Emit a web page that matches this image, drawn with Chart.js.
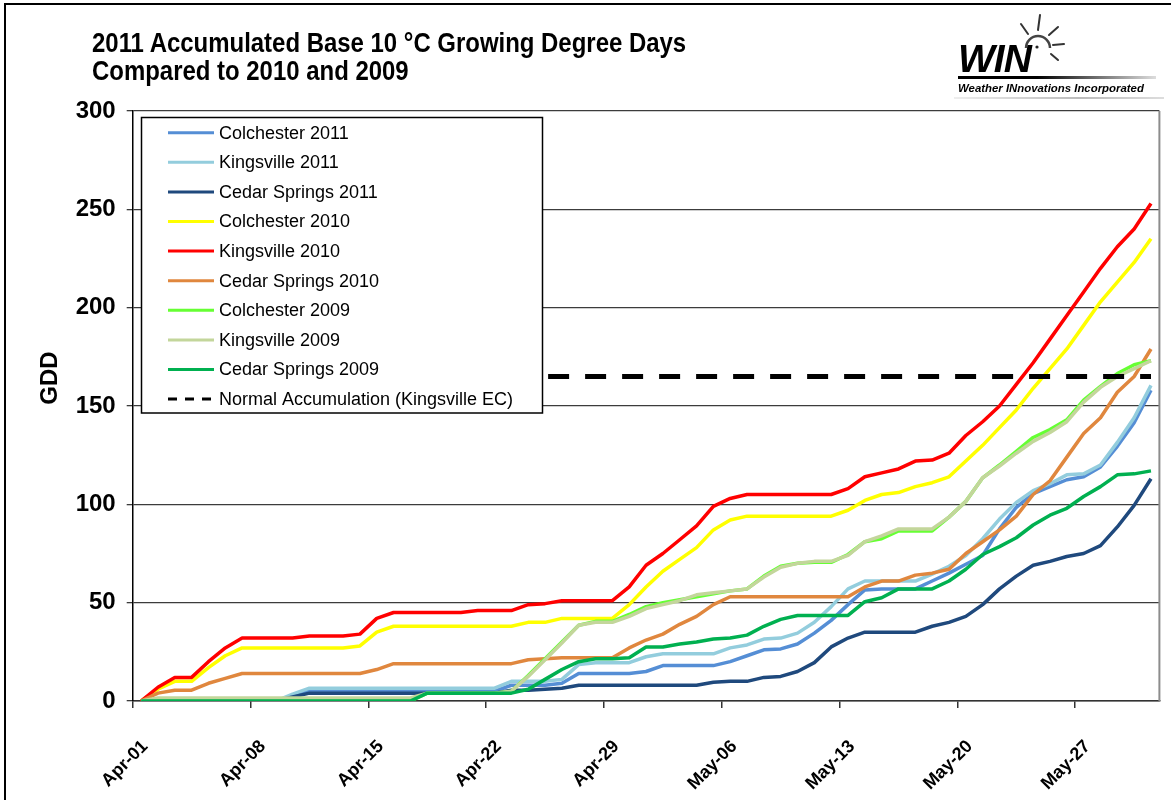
<!DOCTYPE html>
<html>
<head>
<meta charset="utf-8">
<script src="https://cdn.jsdelivr.net/npm/chart.js@4.4.1/dist/chart.umd.min.js"></script>
<style>
  html, body { margin: 0; padding: 0; background: #fff; overflow: hidden; }
  #wrap { position: relative; width: 1171px; height: 800px; }
  #frame { position: absolute; left: 4px; top: 3px; width: 1300px; height: 900px; border: 2.5px solid #000; }
  #title { position: absolute; left: 92px; top: 29px; font: bold 28px "Liberation Sans", Arial, sans-serif; line-height: 27.5px; color: #000; transform: scaleX(0.855); transform-origin: left top; white-space: nowrap; }
  #logo { position: absolute; left: 952px; top: 8px; width: 212px; height: 94px; }
  #logo .win { position: absolute; left: 6px; top: 29px; font: italic bold 39px "Liberation Sans", Arial, sans-serif; letter-spacing: -1px; color: #000; }
  #logo .bar { position: absolute; left: 6px; top: 68px; width: 198px; height: 3px; background: linear-gradient(to right, #000 0%, #000 40%, #ddd 100%); }
  #logo .sub { position: absolute; left: 6px; top: 74px; font: italic bold 11.4px "Liberation Sans", Arial, sans-serif; color: #000; white-space: nowrap; }
  #logo .rule { position: absolute; left: 2px; top: 89px; width: 210px; height: 2px; background: linear-gradient(to right, #eee, #bbb 60%, #ddd); }
  #logo svg { position: absolute; left: 62px; top: 2px; }
  canvas { position: absolute; left: 0; top: 0; }
</style>
</head>
<body>
<div id="wrap">
  <canvas id="gddChart" width="1171" height="800"></canvas>
  <div id="frame"></div>
  <div id="title">2011 Accumulated Base 10 °C Growing Degree Days<br>Compared to 2010 and 2009</div>
  <div id="logo">
    <svg width="60" height="60" viewBox="0 0 60 60">
      <path d="M12 38 A12 12 0 0 1 36 38" fill="none" stroke="#444" stroke-width="2.5"/>
      <circle cx="23" cy="37" r="1.6" fill="#222"/>
      <g stroke="#333" stroke-width="2" stroke-linecap="round">
        <line x1="24" y1="20" x2="26" y2="5"/>
        <line x1="14" y1="24" x2="7" y2="14"/>
        <line x1="35" y1="25" x2="44" y2="17"/>
        <line x1="39" y1="35" x2="50" y2="34"/>
        <line x1="37" y1="44" x2="44" y2="50"/>
      </g>
    </svg>
    <div class="win">WIN</div>
    <div class="bar"></div>
    <div class="sub">Weather INnovations Incorporated</div>
    <div class="rule"></div>
  </div>
</div>
<script>
const days = [
  'Apr-01','Apr-02','Apr-03','Apr-04','Apr-05','Apr-06','Apr-07','Apr-08','Apr-09','Apr-10',
  'Apr-11','Apr-12','Apr-13','Apr-14','Apr-15','Apr-16','Apr-17','Apr-18','Apr-19','Apr-20',
  'Apr-21','Apr-22','Apr-23','Apr-24','Apr-25','Apr-26','Apr-27','Apr-28','Apr-29','Apr-30',
  'May-01','May-02','May-03','May-04','May-05','May-06','May-07','May-08','May-09','May-10',
  'May-11','May-12','May-13','May-14','May-15','May-16','May-17','May-18','May-19','May-20',
  'May-21','May-22','May-23','May-24','May-25','May-26','May-27','May-28','May-29','May-30','May-31'
];
const tickLabels = ['Apr-01','Apr-08','Apr-15','Apr-22','Apr-29','May-06','May-13','May-20','May-27'];
const yTicks = [0, 50, 100, 150, 200, 250, 300];

// 2011
const colchester2011 = [0,0,0,0,0,0,0,0,0,2.5, 5,5,5,5,5,5,5,5,5,5, 5,5,8,8,8,9,14,14,14,14,
  15,18,18,18,18,20,23,26,26.5,29, 34.5,41,49,56.5,57,57,57,61,65,69.5, 74,87.5,98.5,105.5,109,112.5,114,119,129.5,141.5,158];
const kingsville2011 = [0,0,0,0,0,0,0,0,0,3.5, 6.5,6.5,6.5,6.5,6.5,6.5,6.5,6.5,6.5,6.5, 6.5,6.5,10,10,10,11,18.5,19.5,19.5,19.5,
  22.5,24,24,24,24,27,28.5,31.5,32,34.5, 40,48,57,61,61,61,61,64.5,68.5,74, 82.5,92.5,101,107,110.5,115,115.5,120,131.5,144,160.5];
const cedarSprings2011 = [0,0,0,0,0,0,0,0,0,2, 4,4,4,4,4,4,4,4,4,4, 4,4,5.5,5.5,6,6.5,8,8,8,8,
  8,8,8,8,9.5,10,10,12,12.5,15, 19.5,27.5,32,35,35,35,35,38,40,43, 49,57,63.5,69,71,73.5,75,79,88.5,99.5,113];
// 2010
const colchester2010 = [0,6,10,10,17,23,27,27,27,27, 27,27,27,28,35,38,38,38,38,38, 38,38,38,40,40,42,42,42,42,49,
  58,66,72,78,87,92,94,94,94,94, 94,94,97,102,105,106,109,111,114,122, 130,139,148,159,169,179,191,203,213,223,235];
const kingsville2010 = [0,7,12,12,20,27,32,32,32,32, 33,33,33,34,42,45,45,45,45,45, 46,46,46,49,49.5,51,51,51,51,58,
  69,75,82,89,99,103,105,105,105,105, 105,105,108,114,116,118,122,122.5,126,135, 142,150,161,172,184,196,208,220,231,240,253];
const cedarSprings2010 = [0,4,5.5,5.5,9,11.5,14,14,14,14, 14,14,14,14,16,19,19,19,19,19, 19,19,19,21,21.5,22,22,22,22,27,
  31,34,39,43,49,53,53,53,53,53, 53,53,53,58,61,61,64,65,67,75, 81,87,94,105,112,124,136,144,157,165,179];
// 2009
const colchester2009 = [0,0,0,0,0,0,0,0,0,0, 0,0,0,0,0,0,0,4,4,4, 4,4,5,13,21.5,30,38.5,40.5,40.5,44,
  48,50,51.5,53,54.5,56,57,63.5,68.5,70, 70.5,70.5,74.5,81,82.5,86.5,86.5,86.5,93.5,101.5, 113.5,120,127,134,138,143,153,160,166.5,171,173];
const kingsville2009 = [0,1.5,1.5,1.5,1.5,1.5,1.5,1.5,1.5,1.5, 1.5,1.5,1.5,1.5,1.5,1.5,1.5,4,4,4, 4,4,5,12.5,21,29.5,38.5,40,40,43,
  47,49,51,54,55,56,57,63,68,70, 71,71,74,81,84,87.5,87.5,87.5,93.5,101.5, 113.5,119.5,126,132,136.5,142,152,159.5,165,169,173];
const cedarSprings2009 = [0,0,0,0,0,0,0,0,0,0, 0,0,0,0,0,0,0,4,4,4, 4,4,4,6,11,16,20,21.5,21.5,22,
  27.5,27.5,29,30,31.5,32,33.5,38,41.5,43.5, 43.5,43.5,43.5,50.5,52.5,57,57,57,61,67, 74.5,78.5,83,89.5,94.5,98,104,109,115,115.5,117];
// normal accumulation, Kingsville EC
const normalKingsville = [165,165,165,165,165,165,165,165,165,165, 165,165,165,165,165,165,165,165,165,165,
  165,165,165,165,165,165,165,165,165,165, 165,165,165,165,165,165,165,165,165,165,
  165,165,165,165,165,165,165,165,165,165, 165,165,165,165,165,165,165,165,165,165,165];

const FONT = '"Liberation Sans", Arial, sans-serif';

document.addEventListener('DOMContentLoaded', function () {
    const series = [
        { label: 'Colchester 2011', data: colchester2011, color: '#558ED5' },
        { label: 'Kingsville 2011', data: kingsville2011, color: '#93CDDD' },
        { label: 'Cedar Springs 2011', data: cedarSprings2011, color: '#1F497D' },
        { label: 'Colchester 2010', data: colchester2010, color: '#FFFF00' },
        { label: 'Kingsville 2010', data: kingsville2010, color: '#FF0000' },
        { label: 'Cedar Springs 2010', data: cedarSprings2010, color: '#E0873E' },
        { label: 'Colchester 2009', data: colchester2009, color: '#66FF33' },
        { label: 'Kingsville 2009', data: kingsville2009, color: '#C3D69B' },
        { label: 'Cedar Springs 2009', data: cedarSprings2009, color: '#00B050' },
        { label: 'Normal Accumulation (Kingsville EC)', data: normalKingsville, color: '#000000', dash: true }
    ];

    // legend box + right frame + axis title
    const extras = {
        id: 'extras',
        afterDraw(chart) {
            const { ctx, chartArea: a } = chart;
            ctx.save();
            ctx.strokeStyle = '#8c8c8c';
            ctx.lineWidth = 2;
            ctx.beginPath();
            ctx.moveTo(a.right, a.top);
            ctx.lineTo(a.right, a.bottom);
            ctx.stroke();

            ctx.translate(50, 378);
            ctx.rotate(-Math.PI / 2);
            ctx.fillStyle = '#000';
            ctx.font = 'bold 24px ' + FONT;
            ctx.textAlign = 'center';
            ctx.textBaseline = 'middle';
            ctx.fillText('GDD', 0, 0);
            ctx.restore();

            ctx.save();
            ctx.fillStyle = '#fff';
            ctx.fillRect(141.5, 117.5, 401, 295.5);
            ctx.strokeStyle = '#000';
            ctx.lineWidth = 1.5;
            ctx.strokeRect(141.5, 117.5, 401, 295.5);
            ctx.font = '18px ' + FONT;
            ctx.textBaseline = 'middle';
            series.forEach(function (s, i) {
                const y = 132.7 + i * 29.6;
                ctx.strokeStyle = s.color;
                ctx.lineWidth = 3;
                ctx.setLineDash(s.dash ? [9, 8] : []);
                ctx.beginPath();
                ctx.moveTo(168, y);
                ctx.lineTo(214, y);
                ctx.stroke();
                ctx.fillStyle = '#000';
                ctx.fillText(s.label, 219, y + 1);
            });
            ctx.restore();
        }
    };

    const ctx = document.getElementById('gddChart').getContext('2d');
    new Chart(ctx, {
        type: 'line',
        data: {
            labels: days,
            datasets: series.map(function (s, i) {
                return {
                    label: s.label,
                    data: s.data,
                    borderColor: s.color,
                    backgroundColor: s.color,
                    borderWidth: s.dash ? 5 : 3.5,
                    borderDash: s.dash ? [21, 16] : [],
                    borderJoinStyle: 'round',
                    pointRadius: 0,
                    tension: 0,
                    fill: false,
                    order: series.length - i
                };
            })
        },
        options: {
            responsive: false,
            animation: false,
            devicePixelRatio: 1,
            layout: { padding: { top: 111, right: 11.6, left: 0, bottom: 0 } },
            plugins: {
                legend: { display: false },
                tooltip: { enabled: false }
            },
            scales: {
                x: {
                    offset: true,
                    afterFit: function (scale) {
                        scale.height = 99;
                        scale.paddingLeft = 0;
                        scale.paddingRight = 0;
                    },
                    grid: {
                        offset: true,
                        drawOnChartArea: false,
                        drawTicks: true,
                        tickLength: 7,
                        lineWidth: 1.5,
                        tickColor: function (c) {
                            return (c.tick && tickLabels.includes(days[c.index])) ? '#333' : 'rgba(0,0,0,0)';
                        }
                    },
                    border: { display: true, color: '#333', width: 1.5 },
                    ticks: {
                        autoSkip: false,
                        minRotation: 45,
                        maxRotation: 45,
                        padding: 28,
                        labelOffset: 4,
                        color: '#000',
                        font: { family: FONT, size: 18, weight: 'bold' },
                        callback: function (value) {
                            const lbl = this.getLabelForValue(value);
                            return tickLabels.includes(lbl) ? lbl : '';
                        }
                    }
                },
                y: {
                    min: yTicks[0],
                    max: yTicks[yTicks.length - 1],
                    afterFit: function (scale) {
                        scale.width = 132.7;
                        scale.paddingTop = 0;
                        scale.paddingBottom = 0;
                    },
                    afterBuildTicks: function (scale) {
                        scale.ticks = yTicks.map(function (v) { return { value: v }; });
                    },
                    grid: { color: '#3c3c3c', lineWidth: 1.3, tickLength: 6 },
                    border: { display: true, color: '#000', width: 1.5 },
                    ticks: {
                        padding: 11,
                        color: '#000',
                        font: { family: FONT, size: 24, weight: 'bold' }
                    }
                }
            }
        },
        plugins: [extras]
    });
});
</script>
</body>
</html>
